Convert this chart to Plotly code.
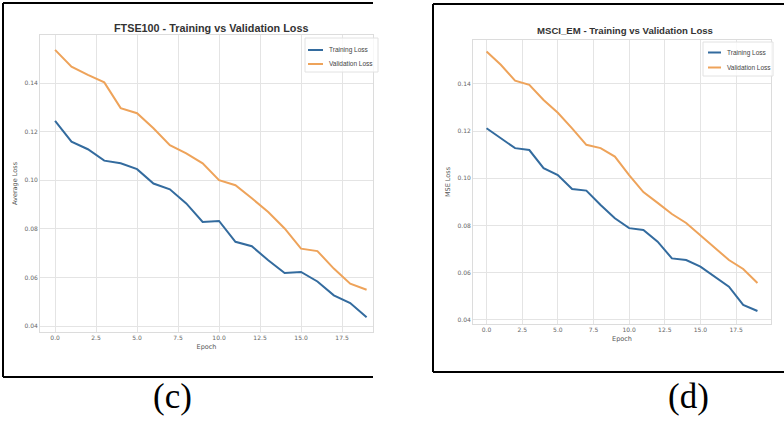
import plotly.graph_objects as go

W, H = 784, 424

epochs = list(range(20))
ftse_train = [0.1245, 0.1159, 0.1128, 0.1081, 0.1070, 0.1046, 0.0987, 0.0963, 0.0905, 0.0829,
              0.0833, 0.0747, 0.0729, 0.0671, 0.0619, 0.0623, 0.0584, 0.0527, 0.0495, 0.0437]
ftse_val = [0.1537, 0.1468, 0.1434, 0.1403, 0.1297, 0.1276, 0.1214, 0.1145, 0.1111, 0.1070,
            0.1001, 0.0980, 0.0926, 0.0870, 0.0802, 0.0719, 0.0709, 0.0637, 0.0575, 0.0550]
msci_train = [0.1212, 0.1170, 0.1128, 0.1120, 0.1043, 0.1014, 0.0955, 0.0948, 0.0887, 0.0831,
              0.0789, 0.0781, 0.0732, 0.0661, 0.0654, 0.0626, 0.0583, 0.0541, 0.0464, 0.0438]
msci_val = [0.1537, 0.1481, 0.1414, 0.1396, 0.1332, 0.1278, 0.1212, 0.1142, 0.1128, 0.1092,
            0.1014, 0.0942, 0.0896, 0.0849, 0.0811, 0.0760, 0.0709, 0.0654, 0.0616, 0.0557]

x_ticks = [0.0, 2.5, 5.0, 7.5, 10.0, 12.5, 15.0, 17.5]
x_tick_text = ["0.0", "2.5", "5.0", "7.5", "10.0", "12.5", "15.0", "17.5"]
y_ticks = [0.04, 0.06, 0.08, 0.10, 0.12, 0.14]
y_tick_text = ["0.04", "0.06", "0.08", "0.10", "0.12", "0.14"]

titles = ["FTSE100 - Training vs Validation Loss", "MSCI_EM - Training vs Validation Loss"]
y_labels = ["Average Loss", "MSE Loss"]
x_label = "Epoch"
series_names = ["Training Loss", "Validation Loss"]
captions = ["(c)", "(d)"]

C_TRAIN = "#336b9e"
C_VAL = "#eea35a"

def px(x):
    return x / W

def py(y):
    return 1 - y / H

fig = go.Figure()
fig.add_trace(go.Scatter(x=epochs, y=ftse_train, mode="lines", line=dict(color=C_TRAIN, width=2),
                         xaxis="x", yaxis="y", showlegend=False))
fig.add_trace(go.Scatter(x=epochs, y=ftse_val, mode="lines", line=dict(color=C_VAL, width=2),
                         xaxis="x", yaxis="y", showlegend=False))
fig.add_trace(go.Scatter(x=epochs, y=msci_train, mode="lines", line=dict(color=C_TRAIN, width=2),
                         xaxis="x2", yaxis="y2", showlegend=False))
fig.add_trace(go.Scatter(x=epochs, y=msci_val, mode="lines", line=dict(color=C_VAL, width=2),
                         xaxis="x2", yaxis="y2", showlegend=False))

axis_common = dict(showgrid=True, gridcolor="#e4e4e4", gridwidth=1, zeroline=False,
                   showline=True, linecolor="#dcdcdc", linewidth=1, mirror=True,
                   color="#666",
                   tickfont=dict(family="DejaVu Sans", size=6, color="#666"), ticks="")

fig.update_layout(
    width=W, height=H, margin=dict(l=0, r=0, t=0, b=0),
    paper_bgcolor="white", plot_bgcolor="white", showlegend=False,
    xaxis=dict(domain=[px(40), px(373)], range=[-0.92, 19.39], anchor="y",
               tickvals=x_ticks, ticktext=x_tick_text,
               title=dict(text=x_label, font=dict(family="DejaVu Sans", size=6.5, color="#555"), standoff=4),
               **axis_common),
    yaxis=dict(domain=[py(332), py(35)], range=[0.0376, 0.1598], anchor="x",
               tickvals=y_ticks, ticktext=y_tick_text,
               title=dict(text=y_labels[0], font=dict(family="DejaVu Sans", size=6.5, color="#555"), standoff=6),
               **axis_common),
    xaxis2=dict(domain=[px(473), px(771)], range=[-0.95, 19.95], anchor="y2",
                tickvals=x_ticks, ticktext=x_tick_text,
                title=dict(text=x_label, font=dict(family="DejaVu Sans", size=6.5, color="#555"), standoff=4),
                **axis_common),
    yaxis2=dict(domain=[py(324), py(40)], range=[0.0383, 0.1586], anchor="x2",
                tickvals=y_ticks, ticktext=y_tick_text,
                title=dict(text=y_labels[1], font=dict(family="DejaVu Sans", size=6.5, color="#555"), standoff=6),
                **axis_common),
)

shapes = []
# panel borders
for (x0, y0, x1, y1) in [(3, 3, 373, 3), (3, 3, 3, 377), (3, 377, 373, 377),
                         (433, 4, 784, 4), (433, 4, 433, 372), (433, 372, 784, 372)]:
    shapes.append(dict(type="line", xref="paper", yref="paper", x0=px(x0), y0=py(y0), x1=px(x1), y1=py(y1),
                       line=dict(color="black", width=2)))

annotations = []
# titles
for text, cx, cy, fs in [(titles[0], 211, 28, 10.8), (titles[1], 625, 30, 9.6)]:
    annotations.append(dict(text="<b>" + text + "</b>", xref="paper", yref="paper", x=px(cx), y=py(cy),
                            showarrow=False, xanchor="center", yanchor="middle",
                            font=dict(family="Liberation Sans Narrow, Liberation Sans", size=fs, color="#333")))

# custom legends
legends = [(305, 38, 378, 72, 308, 323, [50, 64], 327), (703, 42, 773, 76, 708, 721, [52.5, 67.5], 725)]
for (bx0, by0, bx1, by1, lx0, lx1, lys, tx) in legends:
    shapes.append(dict(type="rect", xref="paper", yref="paper", x0=px(bx0), y0=py(by0), x1=px(bx1), y1=py(by1),
                       line=dict(color="#e2e2e2", width=1), fillcolor="rgba(255,255,255,0.8)"))
    for name, color, ly in zip(series_names, [C_TRAIN, C_VAL], lys):
        shapes.append(dict(type="line", xref="paper", yref="paper", x0=px(lx0), y0=py(ly), x1=px(lx1), y1=py(ly),
                           line=dict(color=color, width=2)))
        annotations.append(dict(text=name, xref="paper", yref="paper", x=px(tx), y=py(ly), showarrow=False,
                                xanchor="left", yanchor="middle",
                                font=dict(family="Liberation Sans Narrow, Liberation Sans", size=6.5, color="#444")))

# captions
for text, cx in [(captions[0], 172), (captions[1], 688)]:
    annotations.append(dict(text=text, xref="paper", yref="paper", x=px(cx), y=py(396), showarrow=False,
                            xanchor="center", yanchor="middle",
                            font=dict(family="Liberation Serif", size=35, color="black")))

fig.update_layout(shapes=shapes, annotations=annotations)
fig.write_html("out.html")
